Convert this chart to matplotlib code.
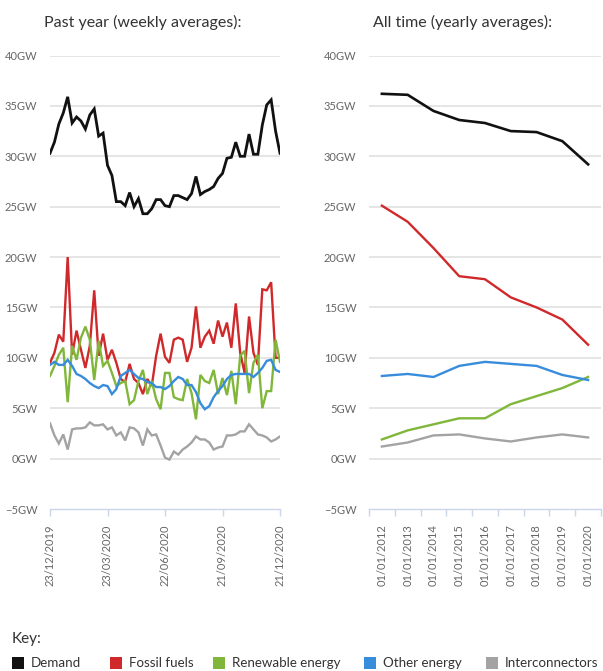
import numpy as np
import pandas as pd
import matplotlib
matplotlib.use("Agg")
import matplotlib.pyplot as plt
import matplotlib.dates as mdates
from matplotlib.patches import Rectangle

plt.rcParams['font.family'] = ['Lato', 'DejaVu Sans']

# ---------------- data ----------------
week_start = "2019-12-23"
n_weeks = 53

demand_week = [30.3, 31.4, 33.2, 34.3, 35.9, 33.3, 33.9, 33.5, 32.7, 34.1, 34.7, 32.0, 32.3,
               29.1, 28.1, 25.5, 25.5, 25.1, 26.4, 25.0, 25.8, 24.3, 24.3, 24.8, 25.7, 25.7,
               25.1, 25.0, 26.1, 26.1, 25.9, 25.7, 26.3, 28.0, 26.2, 26.5, 26.7, 27.0, 27.8,
               28.3, 29.8, 29.9, 31.4, 30.0, 30.0, 32.2, 30.2, 30.2, 33.1, 35.1, 35.6, 32.5, 30.3]
fossil_week = [9.5, 10.5, 12.3, 11.6, 20.0, 10.3, 12.7, 10.8, 9.0, 11.2, 16.7, 10.2, 12.4,
               9.8, 10.8, 9.5, 7.9, 7.6, 9.4, 7.9, 7.5, 6.4, 7.9, 7.2, 10.2, 12.4,
               10.1, 9.5, 11.8, 12.0, 11.8, 9.6, 11.0, 15.1, 11.0, 12.1, 12.7, 11.4, 13.7,
               12.1, 13.5, 11.0, 15.4, 10.5, 8.5, 14.1, 10.5, 9.3, 16.8, 16.7, 17.5, 10.0, 10.0]
renew_week = [8.2, 9.2, 10.3, 11.0, 5.6, 11.2, 9.8, 12.0, 13.1, 11.8, 7.8, 11.7, 9.2,
              9.7, 8.5, 7.2, 7.5, 7.7, 5.4, 5.8, 7.7, 8.8, 6.4, 7.7, 5.9, 4.9,
              8.5, 8.5, 6.1, 5.9, 5.8, 7.9, 6.5, 3.9, 8.3, 7.7, 7.5, 8.8, 6.4,
              8.0, 6.3, 8.7, 5.4, 10.2, 10.7, 6.5, 9.5, 10.3, 5.0, 6.7, 6.7, 11.8, 9.6]
other_week = [9.3, 9.6, 9.3, 9.3, 9.8, 9.2, 8.4, 8.2, 7.9, 7.5, 7.2, 7.0, 7.3,
              7.2, 6.4, 6.9, 8.2, 8.5, 8.8, 8.4, 8.0, 7.9, 7.6, 7.5, 7.1, 7.1,
              6.9, 7.2, 7.7, 8.1, 7.9, 7.3, 7.3, 6.6, 5.5, 4.9, 5.2, 6.1, 6.7,
              7.2, 7.9, 8.3, 8.4, 8.4, 8.4, 8.4, 8.1, 8.5, 9.0, 9.7, 9.8, 8.8, 8.6]
inter_week = [3.5, 2.3, 1.5, 2.4, 0.9, 2.9, 3.0, 3.0, 3.1, 3.6, 3.3, 3.3, 3.4,
              2.9, 3.1, 2.3, 2.6, 1.8, 3.1, 3.0, 2.6, 1.3, 2.9, 2.3, 2.4, 1.3,
              0.1, -0.1, 0.7, 0.4, 0.9, 1.2, 1.6, 2.2, 1.9, 1.9, 1.6, 0.9, 1.1,
              1.2, 2.3, 2.3, 2.4, 2.7, 2.7, 3.4, 2.9, 2.4, 2.3, 2.1, 1.7, 1.9, 2.2]

years = ['01/01/2012', '01/01/2013', '01/01/2014', '01/01/2015', '01/01/2016',
         '01/01/2017', '01/01/2018', '01/01/2019', '01/01/2020']
demand_year = [36.2, 36.1, 34.5, 33.6, 33.3, 32.5, 32.4, 31.5, 29.2]
fossil_year = [25.1, 23.5, 20.9, 18.1, 17.8, 16.0, 15.0, 13.8, 11.3]
renew_year = [1.9, 2.8, 3.4, 4.0, 4.0, 5.4, 6.2, 7.0, 8.1]
other_year = [8.2, 8.4, 8.1, 9.2, 9.6, 9.4, 9.2, 8.3, 7.8]
inter_year = [1.2, 1.6, 2.3, 2.4, 2.0, 1.7, 2.1, 2.4, 2.1]

week_ticks = ["2019-12-23", "2020-03-23", "2020-06-22", "2020-09-21", "2020-12-21"]
y_ticks = [-5, 0, 5, 10, 15, 20, 25, 30, 35, 40]

series_names = ['Demand', 'Fossil fuels', 'Renewable energy', 'Other energy', 'Interconnectors']
colors = ['#111111', '#d0292b', '#80b73a', '#378ddb', '#a3a3a3']

# ---------------- figure ----------------
W, H = 603, 671
fig = plt.figure(figsize=(W / 100, H / 100), dpi=100)

def px_axes(x0, x1, y0, y1):
    return fig.add_axes([x0 / W, 1 - y1 / H, (x1 - x0) / W, (y1 - y0) / H])

ax1 = px_axes(50, 280, 55.5, 509)
ax2 = px_axes(369, 601, 55.5, 509)

tick_color = '#666666'
axis_color = '#ccd6eb'
grid_color = '#e3e3e3'

def style_axes(ax):
    for s in ['top', 'right', 'left']:
        ax.spines[s].set_visible(False)
    ax.spines['bottom'].set_color(axis_color)
    ax.spines['bottom'].set_linewidth(1.0)
    ax.set_ylim(-5, 40)
    ax.set_yticks(y_ticks)
    ax.set_yticklabels([("\u2212" + f"{abs(v)}GW") if v < 0 else f"{v}GW" for v in y_ticks])
    ax.tick_params(axis='y', length=0, pad=9, labelsize=8, labelcolor=tick_color)
    for v in y_ticks[1:]:
        ax.axhline(v, color=grid_color, lw=1.3, zorder=0)
    ax.set_facecolor('none')

dates = pd.date_range(week_start, periods=n_weeks, freq='7D')
week_series = [demand_week, fossil_week, renew_week, other_week, inter_week]
year_series = [demand_year, fossil_year, renew_year, other_year, inter_year]

style_axes(ax1)
for vals, c, name in zip(week_series, colors, series_names):
    ax1.plot(dates, vals, color=c, lw=1.7 if name != 'Demand' else 2.0,
             solid_joinstyle='miter', zorder=3)
ax1.set_xlim(dates[0], dates[-1])
tick_dates = pd.to_datetime(week_ticks)
ax1.set_xticks(tick_dates)
ax1.set_xticklabels([d.strftime('%d/%m/%Y') for d in tick_dates], rotation=90)
ax1.tick_params(axis='x', length=5, width=1, color=axis_color, pad=6,
                labelsize=8, labelcolor=tick_color)

style_axes(ax2)
xs = np.arange(len(years))
for vals, c, name in zip(year_series, colors, series_names):
    ax2.plot(xs, vals, color=c, lw=1.7 if name != 'Demand' else 1.9, zorder=3)
ax2.set_xlim(-0.5, len(years) - 0.5)
ax2.set_xticks(xs)
ax2.set_xticklabels(years, rotation=90)
ax2.set_xticks(np.arange(len(years) + 1) - 0.5, minor=True)
ax2.tick_params(axis='x', which='major', length=0, pad=11,
                labelsize=8, labelcolor=tick_color)
ax2.tick_params(axis='x', which='minor', length=5, width=1, color=axis_color)

# titles
fig.text(44 / W, 1 - 22 / H, "Past year (weekly averages):", fontsize=11.5,
         color='#333333', va='center', ha='left')
fig.text(373 / W, 1 - 22 / H, "All time (yearly averages):", fontsize=11.5,
         color='#333333', va='center', ha='left')

# key
fig.text(12 / W, 1 - 639 / H, "Key:", fontsize=11, color='#333333', va='center', ha='left')
legend_x = [12, 110, 213, 364, 486]
sq = 12
for x, name, c in zip(legend_x, series_names, colors):
    fig.patches.append(Rectangle((x / W, 1 - (663 + sq / 2) / H), sq / W, sq / H,
                                 transform=fig.transFigure, facecolor=c, edgecolor='none'))
    fig.text((x + sq + 7) / W, 1 - 663 / H, name, fontsize=9.6, color='#333333',
             va='center', ha='left')

fig.savefig("out.png", dpi=100, facecolor='white')
